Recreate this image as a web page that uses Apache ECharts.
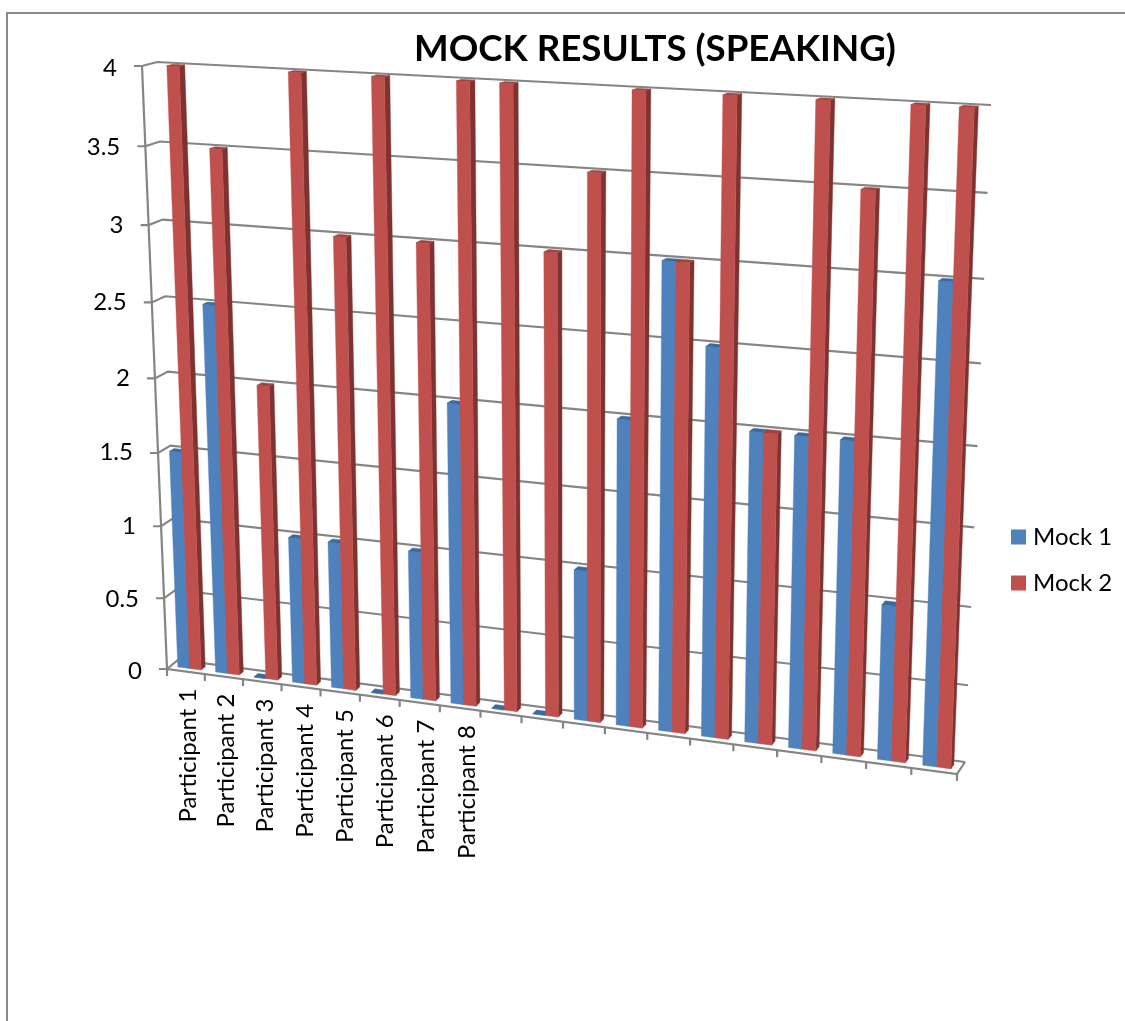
<!DOCTYPE html>
<html>
<head>
<meta charset="utf-8">
<style>html,body{margin:0;padding:0;background:#fff}#chart{width:1125px;height:1021px}</style>
<script src="https://cdn.jsdelivr.net/npm/echarts@6/dist/echarts.min.js"></script>
</head>
<body>
<div id="chart"></div>
<script>
const titleText = 'MOCK RESULTS (SPEAKING)';
const categories = ['Participant 1','Participant 2','Participant 3','Participant 4','Participant 5','Participant 6','Participant 7','Participant 8','','','','','','','','','','',''];
const mock1 = [1.5,2.5,0,1,1,0,1,2,0,0,1,2,3,2.5,2,2,2,1,3];
const mock2 = [4,3.5,2,4,3,4,3,4,4,3,3.5,4,3,4,2,4,3.5,4,4];
const yTicks = [0,0.5,1,1.5,2,2.5,3,3.5,4];

// Perspective of the 3D box: the corners that the flat axes are projected onto
const frontQuad = [[167,669],[957,774],[980,110],[142,66]];
const backQuad  = [[178,660],[965,762],[991,105],[157,62]];
const heightBend = 0.016;
const barDepth = [0.33, 0.7];
const barSpan = 0.31;
const FONT = 'Lato';
const GRID = '#858585';

function homography(q){
  const [x0,y0]=q[0],[x1,y1]=q[1],[x2,y2]=q[2],[x3,y3]=q[3];
  const dx1=x1-x2,dx2=x3-x2,sx=x0-x1+x2-x3,dy1=y1-y2,dy2=y3-y2,sy=y0-y1+y2-y3;
  const den=dx1*dy2-dx2*dy1;
  const g=(sx*dy2-dx2*sy)/den,h=(dx1*sy-sx*dy1)/den;
  const a=x1-x0+g*x1,b=x3-x0+h*x3,d=y1-y0+g*y1,e=y3-y0+h*y3;
  return (u,v)=>{const w=g*u+h*v+1;return [(a*u+b*v+x0)/w,(d*u+e*v+y0)/w];};
}
const front=homography(frontQuad), back=homography(backQuad);
// s, t are fractions of the flat grid rectangle; depth 0 = front plane, 1 = back wall
function project(s,t,depth){
  const tb=t-heightBend*t*(1-t);
  const f=front(s,tb), b=back(s,tb);
  return [f[0]+(b[0]-f[0])*depth, f[1]+(b[1]-f[1])*depth];
}
function fractions(params,pt){
  const c=params.coordSys;
  return [(pt[0]-c.x)/c.width,(c.y+c.height-pt[1])/c.height];
}
function poly(points,fill){
  return {type:'polygon',shape:{points},style:{fill,stroke:fill,lineWidth:0.4}};
}
function line(points){
  return {type:'polyline',shape:{points},style:{fill:null,stroke:GRID,lineWidth:2.2}};
}
function barRenderer(side,colors){
  return function(params,api){
    const centre=api.coord([api.value(0),0]);
    const top=api.coord([api.value(0),api.value(1)]);
    const band=api.size([1,0])[0];
    const a=centre[0]+(side<0?-barSpan:0)*band, b=centre[0]+(side<0?0:barSpan)*band;
    const sa=fractions(params,[a,centre[1]])[0], sb=fractions(params,[b,centre[1]])[0];
    const t=fractions(params,top)[1];
    const d0=barDepth[0], d1=barDepth[1];
    return {type:'group',children:[
      poly([project(sb,0,d0),project(sb,0,d1),project(sb,t,d1),project(sb,t,d0)],colors.side),
      poly([project(sa,0,d0),project(sb,0,d0),project(sb,t,d0),project(sa,t,d0)],colors.front),
      poly([project(sa,t,d0),project(sb,t,d0),project(sb,t,d1),project(sa,t,d1)],colors.top)
    ]};
  };
}
function yGridRenderer(params,api){
  const t=fractions(params,api.coord([0,api.value(0)]))[1];
  const p=project(0,t,0), q=project(0,t,1), r=project(1,t,1);
  const lab=front(0,t);
  return {type:'group',children:[
    line([[p[0]-8,p[1]],p,q,r]),
    {type:'text',style:{text:String(api.value(0)),x:lab[0]-25,y:lab[1]+2,align:'right',verticalAlign:'middle',fontFamily:FONT,fontSize:24,fill:'#000'}}
  ]};
}
function frameRenderer(params,api){
  return {type:'group',children:[
    line([project(0,1,0),project(0,0,0),project(1,0,0),project(1,0,1)])
  ]};
}
function xTickRenderer(params,api){
  const i=api.value(0), c=api.coord([i,0]), band=api.size([1,0])[0];
  const s=fractions(params,[c[0]-band/2,c[1]])[0];
  const p=project(s,0,0);
  const children=[line([p,[p[0],p[1]+7]])];
  if(i===categories.length-1){
    const e=project(1,0,0);
    children.push(line([e,[e[0],e[1]+7]]));
  }
  const label=categories[i];
  if(label){
    const m=project(fractions(params,c)[0],0,0);
    children.push({type:'text',x:m[0]+2+i*0.7,y:m[1]+17,rotation:Math.PI/2,
      style:{text:label,x:0,y:0,align:'right',verticalAlign:'middle',fontFamily:FONT,fontSize:24,fill:'#000'}});
  }
  return {type:'group',children};
}
const chart=echarts.init(document.getElementById('chart'),null,{renderer:'canvas',width:1125,height:1021});
const idx=categories.map((_,i)=>i);
chart.setOption({
  animation:false,
  backgroundColor:'#fff',
  title:{text:titleText,left:414,top:31,padding:0,textStyle:{fontFamily:FONT,fontWeight:'bold',fontSize:36.7,color:'#000'}},
  legend:{orient:'vertical',left:1006,top:520,icon:'rect',itemWidth:15,itemHeight:15,itemGap:22,
    data:['Mock 1','Mock 2'],selectedMode:false,
    textStyle:{fontFamily:FONT,fontSize:24,color:'#000',padding:[0,0,0,2]}},
  grid:{left:140,top:60,width:850,height:700},
  xAxis:{type:'category',data:categories,show:false},
  yAxis:{type:'value',min:0,max:4,interval:0.5,show:false},
  graphic:[{type:'polyline',shape:{points:[[7,1021],[7,13],[1125,13]]},style:{fill:null,stroke:'#888',lineWidth:2},silent:true}],
  series:[
    {name:'gridlines',type:'custom',renderItem:yGridRenderer,data:yTicks.map(v=>[v]),encode:{y:0},silent:true,clip:false,z:1},
    {name:'frame',type:'custom',renderItem:frameRenderer,data:[[0]],silent:true,clip:false,z:1},
    {name:'xticks',type:'custom',renderItem:xTickRenderer,data:idx.map(i=>[i]),encode:{x:0},silent:true,clip:false,z:1},
    {name:'Mock 1',type:'custom',renderItem:barRenderer(-1,{front:'#4F81BD',side:'#2f5480',top:'#3b6a9f'}),
      data:mock1.map((v,i)=>[i,v]),encode:{x:0,y:1},itemStyle:{color:'#4F81BD'},clip:false,z:2},
    {name:'Mock 2',type:'custom',renderItem:barRenderer(1,{front:'#C0504D',side:'#7f3230',top:'#a3423f'}),
      data:mock2.map((v,i)=>[i,v]),encode:{x:0,y:1},itemStyle:{color:'#C0504D'},clip:false,z:3}
  ]
});
</script>
</body>
</html>
